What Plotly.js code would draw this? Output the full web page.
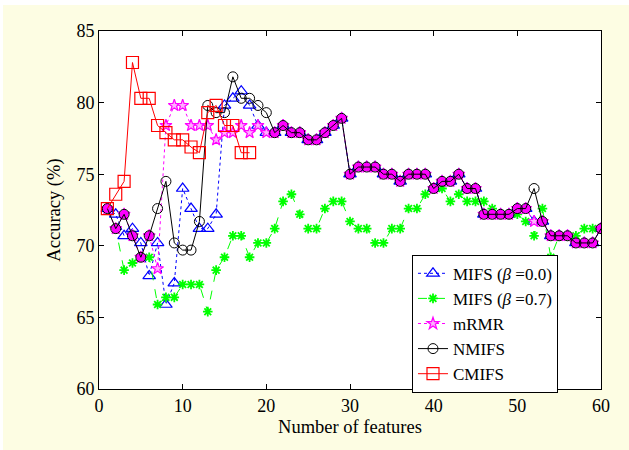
<!DOCTYPE html>
<html>
<head>
<meta charset="utf-8">
<script src="https://cdn.plot.ly/plotly-3.0.1.min.js"></script>
<style>
  html, body { margin: 0; padding: 0; background: #ffffff; width: 629px; height: 450px; overflow: hidden; }
  #chart { position: absolute; left: 3px; top: 5px; width: 626px; height: 445px; }
</style>
</head>
<body>
<div id="chart"></div>
<script>
// Number of selected features
const features = Array.from({length: 60}, (_, i) => i + 1);
const featuresCMIFS = features.slice(0, 18);

// Accuracy (%) per method
const mifs00 = [72.6,72.2,70.7,71.2,70.2,67.9,70.2,65.9,67.4,74.0,
                72.6,71.2,71.2,72.2,79.8,80.3,80.8,79.8,78.4,77.9,
                77.9,78.4,77.9,77.9,77.4,77.4,77.9,78.4,78.9,75.0,
                75.5,75.5,75.5,75.0,75.0,74.5,75.0,75.0,75.0,74.0,
                74.5,74.5,75.0,74.0,74.0,72.2,72.2,72.2,72.2,72.6,
                72.6,71.7,71.7,70.7,70.7,70.7,70.2,70.2,70.2,71.2];
const mifs07 = [72.6,71.2,68.3,68.8,69.2,69.2,65.9,66.4,66.4,67.3,
                67.3,67.3,65.4,68.3,69.2,70.7,70.7,69.2,70.2,70.2,
                71.2,73.1,73.6,72.2,71.2,71.2,72.6,73.1,73.1,71.7,
                71.2,71.2,70.2,70.2,71.2,71.2,72.6,72.6,73.6,74.0,
                74.0,73.1,73.6,73.1,73.1,73.1,72.6,72.2,72.2,72.2,
                71.7,70.7,72.6,69.2,70.7,70.7,70.7,71.2,71.2,71.2];
const mrmr   = [72.6,71.2,72.2,70.7,69.2,70.7,68.4,78.4,79.8,79.8,
                78.4,78.4,78.4,77.4,77.9,77.9,78.4,77.9,78.4,77.9,
                77.9,78.4,77.9,77.9,77.4,77.4,77.9,78.4,78.9,75.0,
                75.5,75.5,75.5,75.0,75.0,74.5,75.0,75.0,75.0,74.0,
                74.5,74.5,75.0,74.0,74.0,72.2,72.2,72.2,72.2,72.6,
                72.6,71.7,71.7,70.7,70.7,70.7,70.2,70.2,70.2,71.2];
const nmifs  = [72.6,71.2,72.2,70.7,69.2,70.7,72.6,74.5,70.2,69.7,
                69.7,71.7,79.8,79.3,79.3,81.8,80.3,80.3,79.8,79.3,
                77.9,78.4,77.9,77.9,77.4,77.4,77.9,78.4,78.9,75.0,
                75.5,75.5,75.5,75.0,75.0,74.5,75.0,75.0,75.0,74.0,
                74.5,74.5,75.0,74.0,74.0,72.2,72.2,72.2,72.2,72.6,
                72.6,74.0,71.7,70.7,70.7,70.7,70.2,70.2,70.2,71.2];
const cmifs  = [72.6,73.6,74.5,82.8,80.3,80.3,78.4,77.9,77.4,77.4,
                76.9,76.5,79.3,79.8,78.4,78.4,76.5,76.5];

const seriesNames = ['MIFS (<i>β</i> =0.0)', 'MIFS (<i>β</i> =0.7)', 'mRMR', 'NMIFS', 'CMIFS'];
const xTicks = [0, 10, 20, 30, 40, 50, 60];
const yTicks = [60, 65, 70, 75, 80, 85];

// points where mRMR and NMIFS coincide (rendered as magenta-filled circles)
const overlapX = features.filter((x, i) => nmifs[i] === mrmr[i]);
const overlapY = nmifs.filter((v, i) => v === mrmr[i]);

const serif = 'Liberation Serif';

const traces = [
  {x: features, y: mifs00, name: seriesNames[0], mode: 'lines+markers',
   line: {color: '#0000ff', width: 1, dash: 'dot'},
   marker: {symbol: 'triangle-up-open', size: 11, color: '#0000ff', line: {width: 1.2}}},
  {x: features, y: mifs07, name: seriesNames[1], mode: 'lines+markers',
   line: {color: '#00ff00', width: 1, dash: 'dash'},
   marker: {symbol: 'asterisk-open', size: 8, color: '#00ff00', line: {width: 1.8, color: '#00ff00'}}},
  {x: features, y: mrmr, name: seriesNames[2], mode: 'lines+markers',
   line: {color: '#ff00ff', width: 1, dash: 'dot'},
   marker: {symbol: 'star', size: 9, color: '#ffb0ff', line: {width: 1.2, color: '#ff00ff'}}},
  {x: overlapX, y: overlapY, mode: 'markers', showlegend: false, hoverinfo: 'skip',
   marker: {symbol: 'circle', size: 9, color: '#ff00ff', line: {width: 0}}},
  {x: features, y: nmifs, name: seriesNames[3], mode: 'lines+markers',
   line: {color: '#000000', width: 1},
   marker: {symbol: 'circle-open', size: 10, color: '#000000', line: {width: 1}}},
  {x: featuresCMIFS, y: cmifs, name: seriesNames[4], mode: 'lines+markers',
   line: {color: '#ff0000', width: 1},
   marker: {symbol: 'square-open', size: 12, color: '#ff0000', line: {width: 1.2}}}
];

const layout = {
  width: 626, height: 445,
  paper_bgcolor: '#fdfde3',
  plot_bgcolor: '#ffffff',
  margin: {l: 96, r: 28, t: 26, b: 61},
  font: {family: serif, size: 18, color: '#000000'},
  showlegend: true,
  legend: {
    x: 0.6235, y: 0.375, xanchor: 'left', yanchor: 'top',
    bgcolor: '#ffffff', bordercolor: '#000000', borderwidth: 1,
    font: {family: serif, size: 17, color: '#000000'},
    tracegroupgap: 0
  },
  xaxis: {
    range: [0, 60], tickvals: xTicks, ticktext: xTicks.map(String),
    ticks: 'inside', ticklen: 5, tickcolor: '#000000', mirror: 'ticks',
    showline: true, linecolor: '#000000', linewidth: 1,
    showgrid: false, zeroline: false,
    tickfont: {family: serif, size: 18},
    title: {text: 'Number of features', font: {family: serif, size: 18.5}, standoff: 5}
  },
  yaxis: {
    range: [60, 85], tickvals: yTicks, ticktext: yTicks.map(String),
    ticks: 'inside', ticklen: 5, tickcolor: '#000000', mirror: 'ticks',
    showline: true, linecolor: '#000000', linewidth: 1,
    showgrid: false, zeroline: false,
    tickfont: {family: serif, size: 18},
    title: {text: 'Accuracy (%)', font: {family: serif, size: 18.5}, standoff: 10}
  }
};

Plotly.newPlot('chart', traces, layout, {displayModeBar: false, staticPlot: true});
</script>
</body>
</html>
